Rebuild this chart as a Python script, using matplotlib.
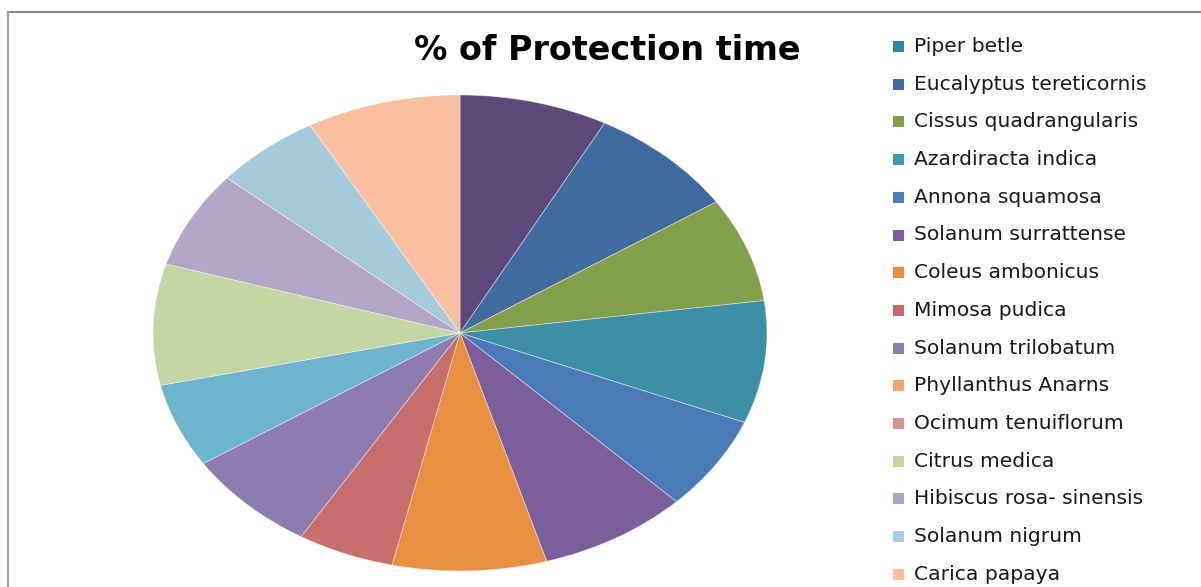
import matplotlib
matplotlib.use("Agg")
import matplotlib.pyplot as plt
from matplotlib.patches import Rectangle
from matplotlib.lines import Line2D

# ---- data ----
names = ["Piper betle", "Eucalyptus tereticornis", "Cissus quadrangularis",
         "Azardiracta indica", "Annona squamosa", "Solanum surrattense",
         "Coleus ambonicus", "Mimosa pudica", "Solanum trilobatum",
         "Phyllanthus Anarns", "Ocimum tenuiflorum", "Citrus medica",
         "Hibiscus rosa- sinensis", "Solanum nigrum", "Carica papaya"]
# percent of protection time
values = [7.8, 7.9, 7.1, 8.3, 6.4, 7.9, 8.1, 5.1, 7.1, 5.7, 0.0, 8.2, 6.6, 5.6, 8.1]
slice_colors = ["#5E4A7A", "#3F6B9F", "#83A04B", "#3D8FA8", "#4A7BB7",
                "#7B5E9C", "#E98F41", "#C66F6C", "#8F7CAE", "#6CB5CC",
                "#D99594", "#C3D5A3", "#B2A7C6", "#A4CADB", "#F8BE9F"]
legend_colors = ["#31859C", "#3E6BA0", "#7F9F48", "#3B9BB0", "#4A7EBB",
                 "#7B5BA1", "#EB8C3F", "#C8686A", "#8F7BB0", "#F5A46E",
                 "#D99594", "#C3D69B", "#B3A2C7", "#A5CFDF", "#F9BF9F"]
title = "% of Protection time"

W, H = 1201, 587
fig = plt.figure(figsize=(W / 100, H / 100), dpi=100)
fig.patch.set_facecolor("white")

# pie axes (elliptical pie)
l, r, t, b = 153, 767, 95, 571
ax = fig.add_axes([l / W, (H - b) / H, (r - l) / W, (b - t) / H])
vals = [v for v in values if v > 0]
cols = [c for v, c in zip(values, slice_colors) if v > 0]
ax.pie(vals, colors=cols, startangle=90, counterclock=False, radius=1,
       wedgeprops=dict(edgecolor=(1, 1, 1, 0.45), linewidth=0.6))
ax.set_aspect("auto")
ax.set_xlim(-1, 1)
ax.set_ylim(-1, 1)
ax.axis("off")

# title
fig.text(607 / W, 1 - 50 / H, title, ha="center", va="center",
         fontsize=24, fontweight="bold", family="DejaVu Sans", color="black")

# legend
y0, step = 46.5, 37.7
for i, (n, c) in enumerate(zip(names, legend_colors)):
    yc = y0 + i * step
    fig.add_artist(Rectangle((893 / W, 1 - (yc + 5.5) / H), 11 / W, 11 / H,
                             transform=fig.transFigure, facecolor=c,
                             edgecolor="none"))
    fig.text(914 / W, 1 - yc / H, n, ha="left", va="center",
             fontsize=14.6, family="DejaVu Sans", color="#1a1a1a")

# border
fig.add_artist(Line2D([8 / W, 1], [1 - 12 / H, 1 - 12 / H],
                      transform=fig.transFigure, color="#8a8a8a", lw=1.5))
fig.add_artist(Line2D([8 / W, 8 / W], [1 - 12 / H, 0],
                      transform=fig.transFigure, color="#a0a0a0", lw=1.5))

fig.savefig("out.png", dpi=100)
